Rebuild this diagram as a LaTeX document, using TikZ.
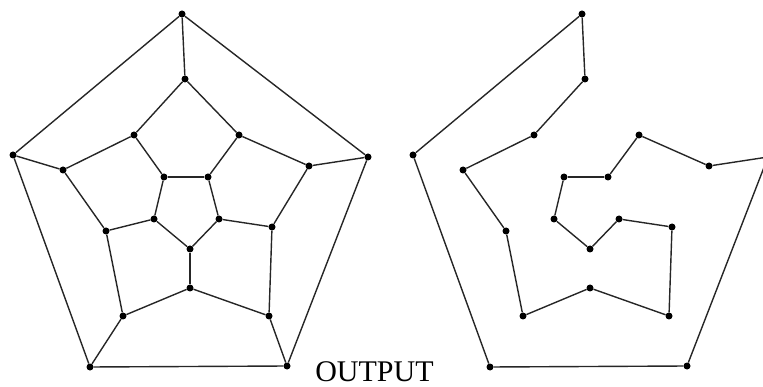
\documentclass[tikz,border=0pt]{standalone}
\usepackage{fontspec}
\setmainfont{Liberation Serif}
\begin{document}
\begin{tikzpicture}[x=1pt,y=-1pt,
  vtx/.style={circle,fill=black,inner sep=0pt,minimum size=7pt},
  edge/.style={line width=1.4pt,black!85}]
\useasboundingbox (0,0) rectangle (763,387);
\foreach \n/\x/\y in {1/182/14,2/13/155,3/368/157,4/90/367,5/287/366,
  6/185/79,7/134/135,8/63/170,9/106/231,10/123/316,11/190/288,12/269/316,
  13/272/227,14/309/166,15/239/135,16/164/177,17/208/177,18/219/219,
  19/190/249,20/154/219}{
  \node[vtx] (a\n) at (\x,\y) {};
  \node[vtx] (b\n) at (\x+400,\y) {};
}
\foreach \u/\v in {1/2,1/3,2/4,3/5,4/5,1/6,2/8,3/14,4/10,5/12,
  6/7,7/8,8/9,9/10,10/11,11/12,12/13,13/14,14/15,15/6,
  7/16,15/17,9/20,13/18,11/19,16/17,17/18,18/19,19/20,20/16}{
  \draw[edge] (a\u) -- (a\v);
}
\foreach \u/\v in {1/6,6/7,7/8,8/9,9/10,10/11,11/12,12/13,13/18,18/19,
  19/20,20/16,16/17,17/15,15/14,14/3,3/5,5/4,4/2,2/1}{
  \draw[edge] (b\u) -- (b\v);
}
\node[font=\fontsize{30pt}{30pt}\selectfont,anchor=base,inner sep=0pt] (out) at (374.5,381) {OUTPUT};
\end{tikzpicture}
\end{document}
